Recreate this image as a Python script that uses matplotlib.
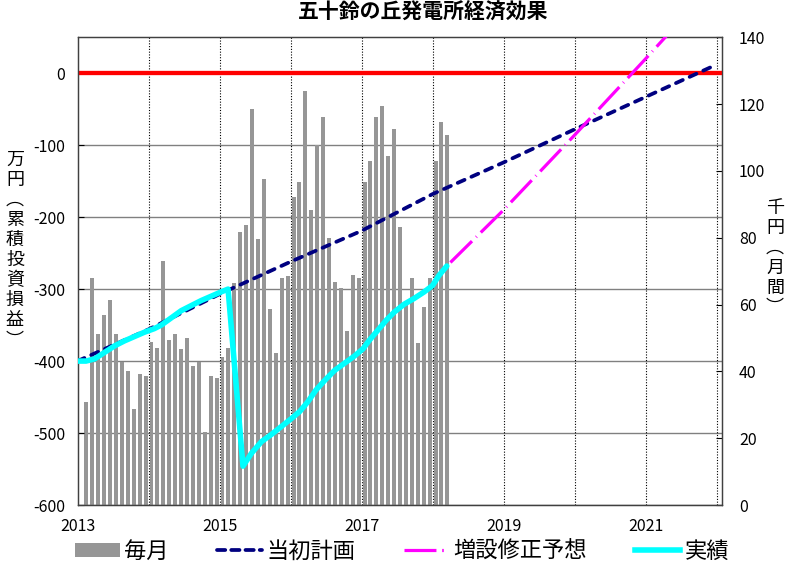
import numpy as np
import matplotlib
matplotlib.use("Agg")
import matplotlib.pyplot as plt
from matplotlib.patches import Patch
from matplotlib.lines import Line2D

plt.rcParams['font.family'] = ['Noto Sans CJK JP', 'DejaVu Sans']
plt.rcParams['axes.unicode_minus'] = False

# 毎月の発電収入（千円）2013年2月〜2018年3月
maitsuki = [30.9, 67.8, 51.1, 56.8, 61.5, 51.3, 42.7, 40.2, 28.7, 39.1, 38.7,
            48.7, 47.0, 73.0, 49.3, 51.3, 46.8, 49.9, 41.6, 42.8, 21.9, 38.7, 38.1,
            44.4, 46.9, 66.3, 81.6, 83.9, 118.6, 79.7, 97.5, 58.6, 45.4, 67.8, 68.6,
            92.1, 96.7, 123.8, 88.3, 107.7, 116.2, 79.9, 66.7, 65.0, 52.0, 68.7, 67.8,
            96.7, 102.8, 116.2, 119.4, 104.5, 112.5, 83.1, 60.0, 67.8, 48.6, 59.3, 68.0,
            102.8, 114.5, 110.8]
start_year = 2013
start_month = 2

# 当初計画（万円）
keikaku_x = [2013, 2014, 2015, 2016, 2017, 2018, 2019, 2020, 2021, 2022]
keikaku_y = [-400, -356, -307, -262, -219, -168, -124, -78, -33, 12]

# 実績（万円）
jisseki_x = [2013.00, 2013.12, 2013.24, 2013.38, 2013.52, 2013.66, 2013.80, 2013.94,
             2014.08, 2014.18, 2014.32, 2014.46, 2014.60, 2014.74, 2014.88, 2015.02,
             2015.12, 2015.33, 2015.45, 2015.59, 2015.73, 2015.87, 2016.01, 2016.13,
             2016.24, 2016.36, 2016.48, 2016.62, 2016.76, 2016.90, 2017.02, 2017.11,
             2017.23, 2017.35, 2017.46, 2017.60, 2017.74, 2017.88, 2018.00, 2018.09,
             2018.20]
jisseki_y = [-400, -400, -397, -388, -379, -372, -366, -360,
             -355, -350, -340, -330, -323, -316, -310, -304,
             -300, -546, -528, -512, -502, -491, -480, -470,
             -457, -440, -427, -413, -403, -393, -383, -371,
             -357, -343, -332, -321, -313, -304, -295, -281,
             -268]

# 増設修正予想（実績の後の予想部分）
yosou_x = [2019.0, 2020.0, 2021.0, 2021.6]
yosou_y = [-190, -86, 20, 85]

left_ticks = [-600, -500, -400, -300, -200, -100, 0]
right_ticks = [0, 20, 40, 60, 80, 100, 120, 140]
year_ticks = list(range(2013, 2023))

fig = plt.figure(figsize=(8, 5.74), dpi=100)
ax = fig.add_axes([0.0969, 0.1202, 0.806, 0.815])
ax2 = ax.twinx()
ax.set_zorder(ax2.get_zorder() + 1)
ax.patch.set_visible(False)

# 棒グラフ（右軸）
months = np.arange(len(maitsuki))
bar_x = start_year + (start_month - 1 + months + 0.5) / 12
ax2.bar(bar_x, maitsuki, width=0.056, color='#969696', zorder=2)
ax2.set_ylim(0, 140)
ax2.set_yticks(right_ticks)

# 目盛線（棒の後ろ）
ax2.hlines(left_ticks, 0, 1, transform=ax.get_yaxis_transform(),
           colors='#808080', linewidth=1.0, zorder=0.5)
for yr in year_ticks[1:]:
    ax2.axvline(yr, color='black', linestyle=(0, (1, 1.5)), linewidth=0.8, zorder=0.6)

# 折れ線（左軸）
ax.axhline(0, color='#ff0000', linewidth=3.1, zorder=2)
ax.plot(keikaku_x, keikaku_y, color='#000080', linewidth=2.7,
        linestyle=(0, (2.0, 2.0)), dash_capstyle='round', zorder=3)
ax.plot(jisseki_x + yosou_x, jisseki_y + yosou_y, color='#ff00ff', linewidth=2.3,
        linestyle=(0, (9.5, 1.8, 0.25, 1.8)), zorder=4)
ax.plot(jisseki_x, jisseki_y, color='#00ffff', linewidth=4.0,
        solid_capstyle='round', solid_joinstyle='round', zorder=5)

ax.set_xlim(2013, 2022.08)
ax.set_ylim(-600, 50)
ax.set_yticks(left_ticks)
ax.set_xticks(year_ticks)
ax.set_xticklabels([str(y) if (y - 2013) % 2 == 0 else '' for y in year_ticks])

ax.tick_params(axis='y', direction='in', length=4, pad=9, labelsize=11.5)
ax.tick_params(axis='x', direction='in', length=0, pad=9, labelsize=11.5)
ax2.tick_params(axis='y', direction='in', length=4, pad=12, labelsize=11.5)

for a in (ax, ax2):
    for s in a.spines.values():
        s.set_color('#404040')
        s.set_linewidth(0.9)

fig.text(423 / 800, 1 - 12 / 574, '五十鈴の丘発電所経済効果', ha='center', va='center',
         fontsize=15, fontweight='bold')

fig.text(15 / 800, 1 - 250 / 574, '\n'.join('万円︵累積投資損益︶'), ha='center', va='center',
         fontsize=13, linespacing=1.15)
fig.text(775 / 800, 1 - 258 / 574, '\n'.join('千円︵月間︶'), ha='center', va='center',
         fontsize=13, linespacing=1.15)

handles = [
    Patch(facecolor='#969696', edgecolor='none'),
    Line2D([], [], color='#000080', linewidth=2.7, linestyle=(0, (2.2, 1.6)), dash_capstyle='round'),
    Line2D([], [], color='#ff00ff', linewidth=2.3, linestyle=(0, (10, 1.8, 0.5, 1.8))),
    Line2D([], [], color='#00ffff', linewidth=4.0),
]
labels = ['毎月', '当初計画', '増設修正予想', '実績']
fig.legend(handles, labels, loc='center', bbox_to_anchor=(402 / 800, 1 - 551 / 574),
           ncol=4, frameon=False, fontsize=16, handlelength=2.0, handletextpad=0.2,
           columnspacing=2.2, handleheight=0.6)

fig.savefig('out.png', dpi=100)
